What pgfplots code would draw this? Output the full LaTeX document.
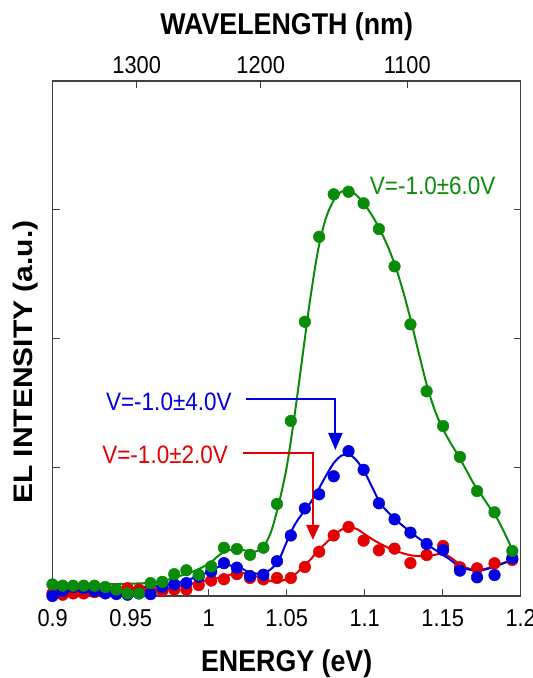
\documentclass[border=0pt]{standalone}
\usepackage{fontspec}
\setmainfont{Liberation Sans}
\usepackage{pgfplots}
\pgfplotsset{compat=1.18}
\usetikzlibrary{arrows.meta}
\definecolor{cgreen}{RGB}{10,140,10}
\definecolor{cblue}{RGB}{0,0,225}
\definecolor{cred}{RGB}{228,0,0}
\newcommand{\tickfont}{\fontsize{21.8bp}{24bp}\selectfont}
\newcommand{\labfont}{\fontsize{26.8bp}{30bp}\selectfont\bfseries}
\newcommand{\annfont}{\fontsize{22.5bp}{26bp}\selectfont}
\pgfplotsset{
  mystyle/.style={
    width=468bp, height=515bp, scale only axis,
    xmin=0.9, xmax=1.2, ymin=0, ymax=4,
    tick align=inside, major tick length=7bp,
    axis line style={black!75, line width=1.2bp},
    tick style={black!75, line width=1.2bp},
    /pgf/number format/assume math mode=true,
    tick label style={font=\tickfont, inner sep=0pt},
  }
}
\begin{document}
\begin{tikzpicture}
\path[use as bounding box] (-52.7bp,-82bp) rectangle (480.3bp,596bp);
\begin{axis}[mystyle, clip=false,
  xtick pos=left,
  xtick={0.9,0.95,1,1.05,1.1,1.15,1.2},
  xticklabels={0.9,0.95,1,1.05,1.1,1.15,1.2},
  ytick={1,2,3}, yticklabels={},
  xticklabel style={anchor=center, yshift=-22bp, yscale=1.12},
  xlabel={ENERGY (eV)},
  xlabel style={font=\labfont, at={(axis description cs:0.5,-0.132)}, anchor=center, yscale=1.12},
  ylabel={EL INTENSITY (a.u.)},
  ylabel style={font=\labfont, at={(axis description cs:-0.059,0.454)}, anchor=center, xscale=1.12},
]
% ---- fitted curves ----
\addplot[cred, line width=2bp, no markers, smooth] coordinates {
(0.90,0.02)(0.93,0.025)(0.96,0.045)(0.975,0.06)(0.985,0.085)(0.995,0.11)(1.00,0.125)
(1.01,0.15)(1.015,0.17)(1.02,0.178)(1.025,0.175)(1.03,0.155)(1.035,0.13)(1.04,0.115)
(1.045,0.115)(1.05,0.13)(1.055,0.165)(1.06,0.22)(1.065,0.28)(1.07,0.35)(1.075,0.41)
(1.08,0.465)(1.085,0.515)(1.09,0.535)(1.095,0.52)(1.10,0.48)(1.105,0.44)(1.11,0.405)
(1.115,0.375)(1.12,0.35)(1.125,0.33)(1.13,0.315)(1.135,0.31)(1.14,0.31)(1.145,0.32)
(1.15,0.33)(1.155,0.30)(1.16,0.255)(1.165,0.22)(1.17,0.205)(1.175,0.205)(1.18,0.22)
(1.185,0.24)(1.19,0.26)(1.195,0.28)};
\addplot[cblue, line width=2bp, no markers, smooth] coordinates {
(0.90,0.03)(0.93,0.04)(0.96,0.07)(0.975,0.09)(0.985,0.12)(0.995,0.16)(1.00,0.19)
(1.005,0.22)(1.01,0.24)(1.015,0.235)(1.02,0.22)(1.025,0.19)(1.03,0.175)(1.035,0.175)
(1.04,0.21)(1.045,0.28)(1.05,0.42)(1.055,0.55)(1.06,0.64)(1.065,0.72)(1.07,0.82)
(1.075,0.93)(1.08,1.03)(1.085,1.09)(1.09,1.10)(1.095,1.05)(1.10,0.96)(1.105,0.84)
(1.11,0.72)(1.115,0.65)(1.12,0.59)(1.125,0.54)(1.13,0.49)(1.135,0.445)(1.14,0.40)
(1.145,0.36)(1.15,0.32)(1.155,0.28)(1.16,0.235)(1.165,0.21)(1.17,0.20)(1.175,0.20)
(1.18,0.215)(1.185,0.235)(1.19,0.26)(1.195,0.28)};
\addplot[cgreen, line width=2bp, no markers, smooth] coordinates {
(0.90,0.09)(0.93,0.09)(0.96,0.10)(0.97,0.115)(0.98,0.15)(0.99,0.19)(1.00,0.25)
(1.005,0.30)(1.01,0.345)(1.015,0.36)(1.02,0.36)(1.025,0.35)(1.03,0.345)(1.035,0.38)
(1.04,0.50)(1.045,0.72)(1.05,1.00)(1.055,1.40)(1.06,1.85)(1.065,2.30)(1.07,2.68)
(1.075,2.93)(1.08,3.07)(1.085,3.14)(1.09,3.15)(1.095,3.11)(1.10,3.04)(1.105,2.95)
(1.11,2.84)(1.115,2.71)(1.12,2.55)(1.125,2.35)(1.13,2.12)(1.135,1.87)(1.14,1.63)
(1.145,1.44)(1.15,1.30)(1.155,1.19)(1.16,1.09)(1.165,0.98)(1.17,0.87)(1.175,0.78)
(1.18,0.69)(1.185,0.60)(1.19,0.48)(1.195,0.35)};
% ---- measured points ----
\addplot[only marks, mark=*, mark size=5.8bp, cred, mark options={line width=0.5bp}] coordinates {
(0.89985,0.02)(0.90643,0.01)(0.91311,0.02)(0.91988,0.02)(0.92676,0.03)(0.93373,0.04)
(0.94082,0.05)(0.94801,0.06)(0.95532,0.05)(0.96273,0.04)(0.97027,0.04)(0.97792,0.05)
(0.98569,0.05)(0.99359,0.085)(1.00162,0.12)(1.00977,0.13)(1.01806,0.17)(1.02649,0.14)
(1.03506,0.13)(1.04377,0.14)(1.05263,0.14)(1.06164,0.225)(1.07081,0.344)(1.08014,0.47)
(1.08963,0.536)(1.09929,0.43)(1.10912,0.355)(1.11913,0.368)(1.12933,0.256)(1.13971,0.318)
(1.15028,0.388)(1.16105,0.223)(1.17202,0.215)(1.18321,0.254)(1.19461,0.28)};
\addplot[only marks, mark=*, mark size=5.8bp, cblue, mark options={line width=0.5bp}] coordinates {
(0.89985,0.0)(0.90643,0.04)(0.91311,0.07)(0.91988,0.06)(0.92676,0.04)(0.93373,0.02)
(0.94082,0.015)(0.94801,0.01)(0.95532,0.02)(0.96273,0.015)(0.97027,0.07)(0.97792,0.09)
(0.98569,0.10)(0.99359,0.15)(1.00162,0.19)(1.00977,0.255)(1.01806,0.22)(1.02649,0.155)
(1.03506,0.165)(1.04377,0.27)(1.05263,0.47)(1.06164,0.68)(1.07081,0.79)(1.08014,0.93)
(1.08963,1.125)(1.09929,0.98)(1.10912,0.72)(1.11913,0.596)(1.12933,0.492)(1.13971,0.404)
(1.15028,0.357)(1.16105,0.197)(1.17202,0.145)(1.18321,0.163)(1.19461,0.293)};
\addplot[only marks, mark=*, mark size=5.8bp, cgreen, mark options={line width=0.5bp}] coordinates {
(0.89985,0.09)(0.90643,0.08)(0.91311,0.08)(0.91988,0.08)(0.92676,0.08)(0.93373,0.07)
(0.94082,0.05)(0.94801,0.02)(0.95532,0.02)(0.96273,0.10)(0.97027,0.11)(0.97792,0.17)
(0.98569,0.20)(0.99359,0.165)(1.00162,0.23)(1.00977,0.375)(1.01806,0.365)(1.02649,0.32)
(1.03506,0.375)(1.04377,0.715)(1.05263,1.36)(1.06164,2.13)(1.07081,2.79)(1.08014,3.12)
(1.08963,3.14)(1.09929,3.05)(1.10912,2.85)(1.11913,2.56)(1.12933,2.11)(1.13971,1.59)
(1.15028,1.32)(1.16105,1.08)(1.17202,0.815)(1.18321,0.65)(1.19461,0.35)};
% ---- annotations ----
\node[font=\annfont, text=cgreen, anchor=west, inner sep=0pt, yscale=1.12] at (axis cs:1.1032,3.184) {V=-1.0±6.0V};
\node[font=\annfont, text=cblue, anchor=west, inner sep=0pt, yscale=1.12] at (axis cs:0.9341,1.509) {V=-1.0±4.0V};
\node[font=\annfont, text=cred, anchor=west, inner sep=0pt, yscale=1.12] at (axis cs:0.9317,1.10) {V=-1.0±2.0V};
\draw[cblue, line width=2bp, -{Triangle[length=17bp,width=14bp]}] (axis cs:1.024,1.528) -| (axis cs:1.0812,1.134);
\draw[cred, line width=2bp, -{Triangle[length=15bp,width=13bp]}] (axis cs:1.0218,1.108) -| (axis cs:1.0668,0.435);
\end{axis}
\begin{axis}[mystyle,
  axis x line*=top, axis y line=none,
  xtick={0.95385,1.03333,1.12727},
  xticklabels={1300,1200,1100},
  xticklabel style={anchor=center, yshift=16bp, yscale=1.12},
  xlabel={WAVELENGTH (nm)},
  xlabel style={font=\labfont, at={(axis description cs:0.5,1.105)}, anchor=center, yscale=1.12},
]
\end{axis}
\end{tikzpicture}
\end{document}
